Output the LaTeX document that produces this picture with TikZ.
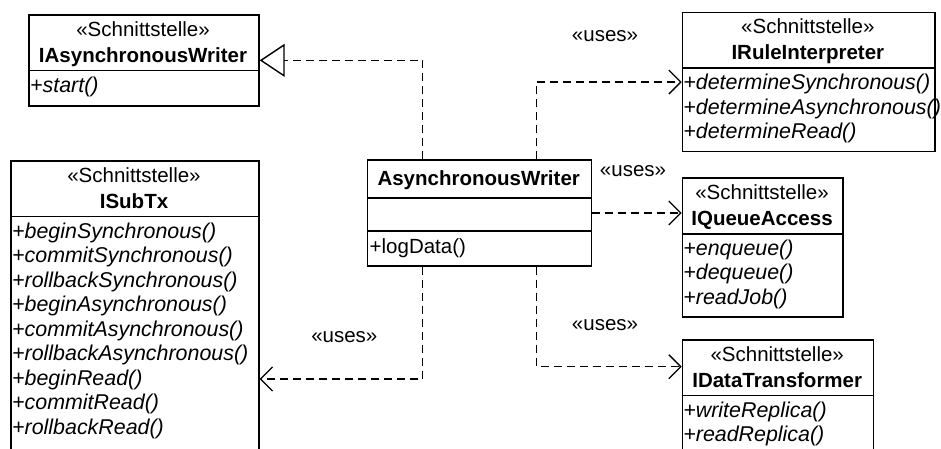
\documentclass[tikz,border=0pt]{standalone}
\usepackage{fontspec}
\setmainfont{Liberation Sans}
\usetikzlibrary{arrows.meta}
\newcommand\umlfont{\fontsize{20.5pt}{24.5pt}\selectfont}
\newcommand\opfont{\fontsize{21.4pt}{24.5pt}\selectfont\itshape}
\begin{document}
\begin{tikzpicture}[x=1pt,y=-1pt,
  umlbox/.style={draw, line width=1.7pt, inner sep=0pt, anchor=north west},
  sepline/.style={line width=1.7pt},
  stereo/.style={font=\umlfont, anchor=base, inner sep=0pt},
  cname/.style={font=\umlfont\bfseries, anchor=base, inner sep=0pt},
  op/.style={font=\opfont, anchor=base west, inner sep=0pt},
  opplain/.style={font=\umlfont, anchor=base west, inner sep=0pt},
  lbl/.style={font=\umlfont, inner sep=0pt},
  dep/.style={line width=1.25pt, dash pattern=on 8pt off 5pt,
    -{Straight Barb[length=12pt,width=24pt,line width=1.25pt]}},
  real/.style={line width=1.25pt, dash pattern=on 8pt off 5pt,
    -{Triangle[open,length=25pt,width=33pt,line width=1.4pt]}}
]
\useasboundingbox (0,0) rectangle (941,448);

% IAsynchronousWriter
\node[umlbox, minimum width=230pt, minimum height=91pt] (A) at (28,14) {};
\draw[sepline] ([yshift=-56.5pt]A.north west) -- ([yshift=-56.5pt]A.north east);
\node[stereo] (A1) at (143,36) {«Schnittstelle»};
\node[cname] (A2) at (143,62) {IAsynchronousWriter};
\node[op] (A3) at (30,92) {+start()};

% ISubTx
\node[umlbox, minimum width=248pt, minimum height=290pt] (S) at (10,160) {};
\draw[sepline] ([yshift=-56.5pt]S.north west) -- ([yshift=-56.5pt]S.north east);
\node[stereo] (S1) at (134,182) {«Schnittstelle»};
\node[cname] (S2) at (134,208) {ISubTx};
\node[op] (S3) at (12,238) {+beginSynchronous()};
\node[op] (S4) at (12,262.5) {+commitSynchronous()};
\node[op] (S5) at (12,287) {+rollbackSynchronous()};
\node[op] (S6) at (12,311.5) {+beginAsynchronous()};
\node[op] (S7) at (12,336) {+commitAsynchronous()};
\node[op] (S8) at (12,360.5) {+rollbackAsynchronous()};
\node[op] (S9) at (12,385) {+beginRead()};
\node[op] (S10) at (12,409.5) {+commitRead()};
\node[op] (S11) at (12,434) {+rollbackRead()};

% IRuleInterpreter
\node[umlbox, minimum width=252.3pt, minimum height=139pt] (R) at (681.7,11.7) {};
\draw[sepline] ([yshift=-56.5pt]R.north west) -- ([yshift=-56.5pt]R.north east);
\node[stereo] (R1) at (807.85,33.7) {«Schnittstelle»};
\node[cname] (R2) at (807.85,59.7) {IRuleInterpreter};
\node[op] (R3) at (683.2,89.7) {+determineSynchronous()};
\node[op] (R4) at (683.2,114.2) {+determineAsynchronous()};
\node[op] (R5) at (683.2,138.7) {+determineRead()};

% IQueueAccess
\node[umlbox, minimum width=160.6pt, minimum height=139pt] (Q) at (681.7,177.3) {};
\draw[sepline] ([yshift=-56.5pt]Q.north west) -- ([yshift=-56.5pt]Q.north east);
\node[stereo] (Q1) at (762,199.3) {«Schnittstelle»};
\node[cname] (Q2) at (762,225.3) {IQueueAccess};
\node[op] (Q3) at (683.2,255.3) {+enqueue()};
\node[op] (Q4) at (683.2,279.8) {+dequeue()};
\node[op] (Q5) at (683.2,304.3) {+readJob()};

% IDataTransformer
\node[umlbox, minimum width=191pt, minimum height=115pt] (D) at (681.7,339) {};
\draw[sepline] ([yshift=-56.5pt]D.north west) -- ([yshift=-56.5pt]D.north east);
\node[stereo] (D1) at (777.2,361) {«Schnittstelle»};
\node[cname] (D2) at (777.2,387) {IDataTransformer};
\node[op] (D3) at (683.2,417) {+writeReplica()};
\node[op] (D4) at (683.2,441.5) {+readReplica()};

% AsynchronousWriter
\node[umlbox, minimum width=224pt, minimum height=105.7pt] (W) at (366.7,159.3) {};
\draw[sepline] ([yshift=-38.4pt]W.north west) -- ([yshift=-38.4pt]W.north east);
\draw[sepline] ([yshift=-71.7pt]W.north west) -- ([yshift=-71.7pt]W.north east);
\node[cname] (W1) at (478.7,185) {AsynchronousWriter};
\node[opplain] (W2) at (369.5,253.3) {+logData()};

% connector ends on the AsynchronousWriter box
\coordinate (wtl) at ([xshift=56pt]W.north west);
\coordinate (wtr) at ([xshift=-55.7pt]W.north east);
\coordinate (wbl) at ([xshift=56pt]W.south west);
\coordinate (wbr) at ([xshift=-55.7pt]W.south east);

% realization and dependencies
\draw[real] (wtl) |- (A.east);
\draw[dep] (wtr) |- (R.west);
\draw[dep] (W.east) -- (W.east -| Q.west);
\draw[dep] (wbr) |- ([yshift=-27.7pt]D.north west);
\draw[dep] (wbl) |- ([yshift=-219pt]S.north east);

% stereotype labels
\node[lbl] (u1) at (605,36) {«uses»};
\node[lbl] (u2) at (633,170.7) {«uses»};
\node[lbl] (u3) at (605,325) {«uses»};
\node[lbl] (u4) at (344.3,337.3) {«uses»};
\end{tikzpicture}
\end{document}
